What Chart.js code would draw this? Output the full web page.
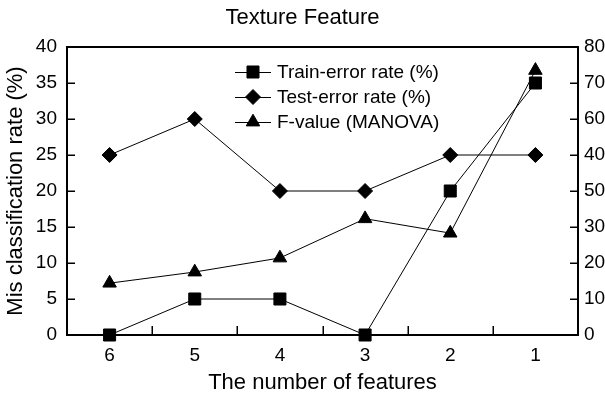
<!DOCTYPE html>
<html>
<head>
<meta charset="utf-8">
<title>Texture Feature</title>
<script src="https://cdn.jsdelivr.net/npm/chart.js@4.4.1/dist/chart.umd.min.js"></script>
<style>
  html, body { margin: 0; padding: 0; background: #fff; }
  #wrap { width: 605px; height: 399px; }
</style>
</head>
<body>
<div id="wrap"><canvas id="chart" width="605" height="399"></canvas></div>
<script>
// Number of features kept (x categories, left to right)
const featureCounts = ['6', '5', '4', '3', '2', '1'];

// Error rates in percent (left axis)
const trainError = [0, 5, 5, 0, 20, 35];
const testError = [25, 30, 20, 20, 25, 25];

// MANOVA F-value (right axis)
const fValue = [14.4, 17.5, 21.4, 32.3, 28.3, 73.5];

// Right axis labels, bottom to top, as printed
const rightTickLabels = ['0', '10', '20', '30', '50', '40', '60', '70', '80'];

const FONT = '"Liberation Sans", Arial, Helvetica, sans-serif';
Chart.defaults.font.family = FONT;
Chart.defaults.color = '#000';

function marker(ctx, style, r, x, y) {
  ctx.fillStyle = '#000';
  ctx.strokeStyle = '#000';
  ctx.lineWidth = 1;
  if (Chart.helpers && Chart.helpers.drawPoint) {
    Chart.helpers.drawPoint(ctx, { pointStyle: style, radius: r, rotation: 0, borderWidth: 1 }, x, y);
    return;
  }
  ctx.beginPath();
  if (style === 'rect') {
    const s = r * Math.SQRT1_2;
    ctx.rect(x - s, y - s, 2 * s, 2 * s);
  } else if (style === 'rectRot') {
    ctx.moveTo(x - r, y); ctx.lineTo(x, y - r); ctx.lineTo(x + r, y); ctx.lineTo(x, y + r);
  } else {
    for (let k = 0; k < 3; k++) {
      const a = k * 2 * Math.PI / 3;
      const px = x + Math.sin(a) * r, py = y - Math.cos(a) * r;
      if (k === 0) ctx.moveTo(px, py); else ctx.lineTo(px, py);
    }
  }
  ctx.closePath();
  ctx.fill();
  ctx.stroke();
}

// Plot frame plus inward tick marks on left, right and bottom
const frameTicks = {
  id: 'frameTicks',
  beforeDatasetsDraw(chart) {
    const { ctx, chartArea: a, scales } = chart;
    ctx.save();
    ctx.strokeStyle = '#000';
    ctx.lineWidth = 1.5;
    const seg = (x1, y1, x2, y2) => { ctx.beginPath(); ctx.moveTo(x1, y1); ctx.lineTo(x2, y2); ctx.stroke(); };
    scales.y.ticks.forEach(t => {
      const py = Math.round(scales.y.getPixelForValue(t.value)) + 0.25;
      seg(a.left, py, a.left + 8, py);
    });
    scales.y2.ticks.forEach(t => {
      const py = Math.round(scales.y2.getPixelForValue(t.value)) + 0.25;
      seg(a.right, py, a.right - 8, py);
    });
    const n = scales.x.ticks.length;
    for (let i = 1; i < n; i++) {
      const px = Math.round((scales.x.getPixelForTick(i - 1) + scales.x.getPixelForTick(i)) / 2) + 0.25;
      seg(px, a.bottom, px, a.bottom - 9);
    }
    ctx.lineWidth = 2;
    ctx.strokeRect(a.left, a.top, a.right - a.left, a.bottom - a.top);
    ctx.restore();
  }
};

// Legend inside the plot: short line with the series marker, then the label
const lineLegend = {
  id: 'lineLegend',
  afterDraw(chart) {
    const { ctx, chartArea: a } = chart;
    const x0 = a.left + 168, lineW = 36, y0 = a.top + 25, rowH = 25;
    ctx.save();
    chart.data.datasets.forEach((ds, i) => {
      const y = y0 + i * rowH;
      ctx.strokeStyle = '#000';
      ctx.lineWidth = 1;
      ctx.beginPath();
      ctx.moveTo(x0, y + 0.5);
      ctx.lineTo(x0 + lineW, y + 0.5);
      ctx.stroke();
      marker(ctx, ds.pointStyle, ds.pointRadius, x0 + lineW / 2, y);
      ctx.fillStyle = '#000';
      ctx.font = '19px ' + FONT;
      ctx.textBaseline = 'middle';
      ctx.textAlign = 'left';
      ctx.fillText(ds.label, x0 + lineW + 6, y + 1);
    });
    ctx.restore();
  }
};

const seriesStyle = {
  borderColor: '#000',
  borderWidth: 1,
  pointBackgroundColor: '#000',
  pointBorderColor: '#000',
  pointBorderWidth: 1,
  tension: 0,
  clip: false
};

const noGrid = { display: false, drawTicks: false, tickLength: 0 };

new Chart(document.getElementById('chart'), {
  type: 'line',
  data: {
    labels: featureCounts,
    datasets: [
      Object.assign({ label: 'Train-error rate (%)', data: trainError, yAxisID: 'y', pointStyle: 'rect', pointRadius: 8.5 }, seriesStyle),
      Object.assign({ label: 'Test-error rate (%)', data: testError, yAxisID: 'y', pointStyle: 'rectRot', pointRadius: 7.5 }, seriesStyle),
      Object.assign({ label: 'F-value (MANOVA)', data: fValue, yAxisID: 'y2', pointStyle: 'triangle', pointRadius: 7.8 }, seriesStyle)
    ]
  },
  options: {
    responsive: false,
    animation: false,
    devicePixelRatio: 1,
    events: [],
    layout: { padding: 0 },
    plugins: {
      legend: { display: false },
      tooltip: { enabled: false },
      title: {
        display: true,
        text: 'Texture Feature',
        color: '#000',
        font: { size: 22, weight: 'normal' },
        padding: { top: 5, bottom: 15.6 }
      }
    },
    scales: {
      x: {
        type: 'category',
        offset: true,
        grid: Object.assign({ offset: true }, noGrid),
        border: { display: false },
        ticks: { color: '#000', font: { size: 19 }, padding: 9, maxRotation: 0, autoSkip: false },
        title: { display: true, text: 'The number of features', color: '#000', font: { size: 22 }, padding: { top: 0, bottom: 3 } },
        afterFit(s) { s.height = 64; }
      },
      y: {
        position: 'left',
        min: 0, max: 40,
        grid: noGrid,
        border: { display: false },
        ticks: { stepSize: 5, color: '#000', font: { size: 19 }, padding: 10 },
        title: { display: true, text: 'Mis classification rate (%)', color: '#000', font: { size: 22 }, padding: { top: 3, bottom: 0 } },
        afterFit(s) { s.width = 67; }
      },
      y2: {
        position: 'right',
        min: 0, max: 80,
        grid: noGrid,
        border: { display: false },
        ticks: {
          stepSize: 10, color: '#000', font: { size: 19 }, padding: 6,
          callback: (value, index) => rightTickLabels[index]
        },
        afterFit(s) { s.width = 27; }
      }
    }
  },
  plugins: [frameTicks, lineLegend]
});
</script>
</body>
</html>
